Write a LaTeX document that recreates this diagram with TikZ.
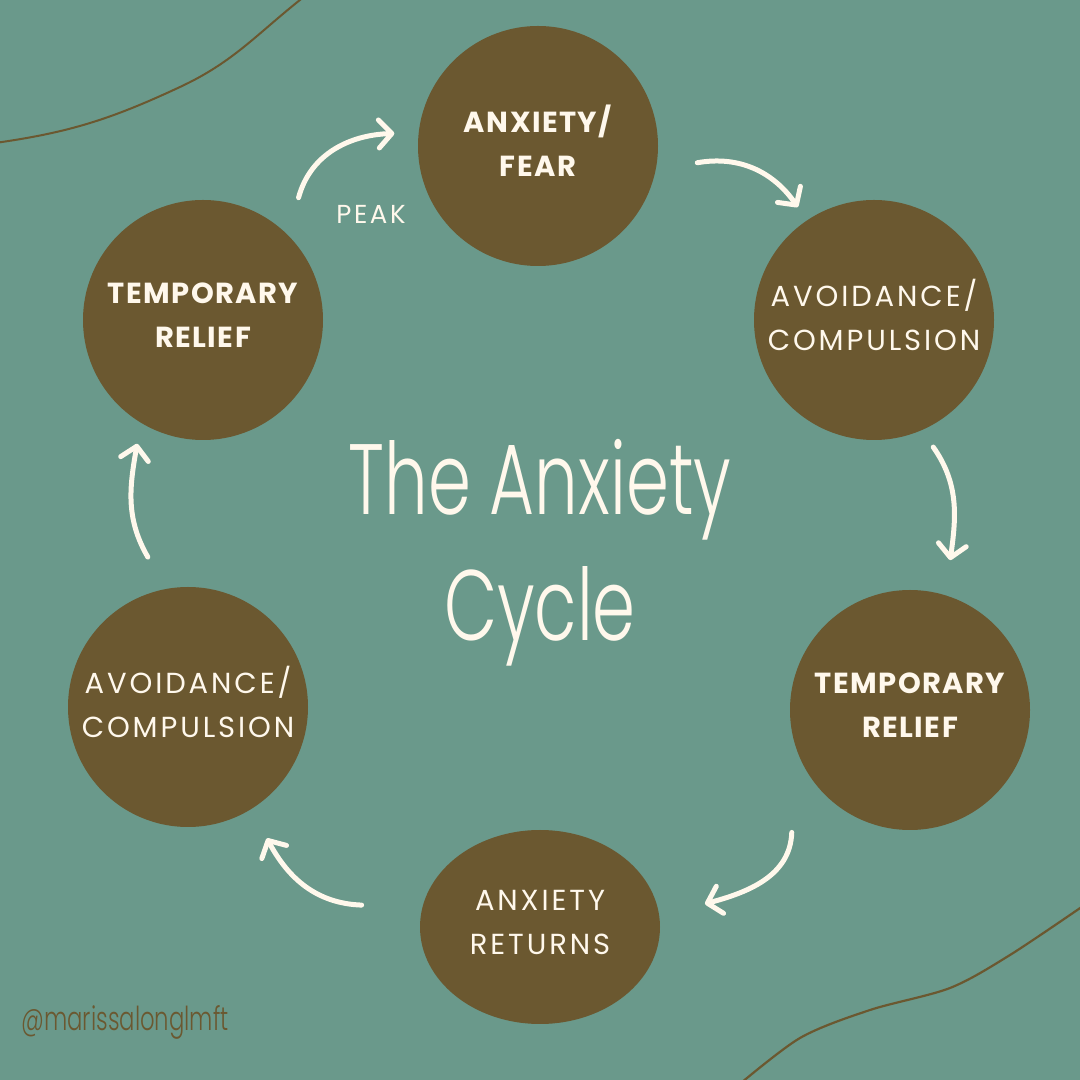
\documentclass[tikz,border=0pt]{standalone}
\usepackage{fontspec}
\usepackage{xcolor}
\usepackage{tikz}
\usetikzlibrary{arrows.meta,shapes.geometric}
\setmainfont{Poppins}
\newfontfamily\capsfont{Poppins}[LetterSpace=10]
\newfontfamily\boldcaps{Poppins}[LetterSpace=5,UprightFont=* Bold]
\newfontfamily\handfont{Poppins Light}[FakeStretch=0.69]
\definecolor{sea}{HTML}{6A998B}
\definecolor{bark}{HTML}{6B5830}
\definecolor{cream}{HTML}{FFF8EC}

\begin{document}
\begin{tikzpicture}[x=1pt,y=1pt, disc/.style={circle,fill=bark,minimum size=240pt,inner sep=0pt,text=cream,align=center,text depth=10pt}, boldtxt/.style={font=\boldcaps\fontsize{29}{44}\selectfont}, thintxt/.style={font=\capsfont\fontsize{29}{44}\selectfont}, arr/.style={cream,line width=5pt,line cap=round,-{Straight Barb[length=13pt,width=28pt,round]}}]
\fill[sea] (0,0) rectangle (1080,1080);
\useasboundingbox (0,0) rectangle (1080,1080);
\begin{scope}
\clip (0,0) rectangle (1080,1080);
\draw[bark,line width=2pt] (-5,937) to[out=8,in=205] (180,993) to[out=25,in=218] (305,1084);
\draw[bark,line width=2.2pt] plot[smooth] coordinates {(735,-8) (800,42) (870,70) (950,92) (1010,125) (1086,176)};
\end{scope}
% the six stages
\node[disc,boldtxt] (fear) at (538,934) {ANXIETY/\\FEAR};
\node[disc,thintxt] (avoidR) at (874,760) {AVOIDANCE/\\COMPULSION};
\node[disc,boldtxt] (reliefR) at (910,370) {TEMPORARY\\RELIEF};
\node[ellipse,fill=bark,minimum width=240pt,minimum height=194pt,inner sep=0pt,text=cream,align=center,text depth=10pt,thintxt] (returns) at (540,153) {ANXIETY\\RETURNS};
\node[disc,thintxt] (avoidL) at (188,373) {AVOIDANCE/\\COMPULSION};
\node[disc,boldtxt] (reliefL) at (203,760) {TEMPORARY\\RELIEF};
\node[text=cream,font=\capsfont\fontsize{26}{30}\selectfont] (peak) at (371,866) {PEAK};
\node[text=cream,font=\handfont\fontsize{100}{126}\selectfont,align=center] (title) at (540,527) {The Anxiety\\Cycle};
\node[text=bark,font=\handfont\fontsize{33}{38}\selectfont,anchor=west] (tag) at (18,58) {@marissalonglmft};
% hand-drawn arrows round the cycle
\draw[arr] ([shift={(52:35)}]reliefL.52) to[out=75,in=182] ([shift={(175:24)}]fear.175);
\draw[arr] ([shift={(-6:40)}]fear.-6) to[out=10,in=125] ([shift={(124:16)}]avoidR.124);
\draw[arr] ([shift={(-65:20)}]avoidR.-65) to[out=-55,in=82] ([shift={(75:35)}]reliefR.75);
\draw[arr] ([shift={(226:50)}]reliefR.226) to[out=-92,in=15] ([shift={(8:47)}]returns.8);
\draw[arr] ([shift={(173:60)}]returns.173) to[out=178,in=-62] ([shift={(-59:33)}]avoidL.-59);
\draw[arr] ([shift={(105:35)}]avoidL.105) to[out=120,in=-100] ([shift={(242:20)}]reliefL.242);
\end{tikzpicture}
\end{document}
